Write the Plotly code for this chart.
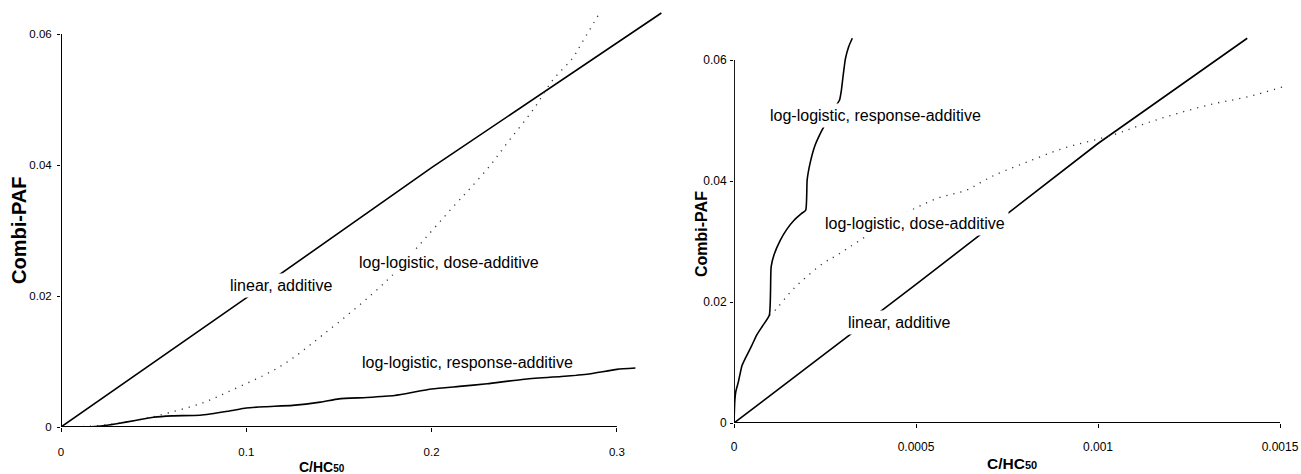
import plotly.graph_objects as go

# ---------------- data: left panel (C/HC50 up to 0.3) ----------------
left_linear_x = [0, 0.1, 0.2, 0.3, 0.324]
left_linear_y = [0, 0.0197, 0.0396, 0.0586, 0.0632]

left_dose_x = [0, 0.02, 0.04, 0.053, 0.0766, 0.0896, 0.118, 0.141, 0.176, 0.199,
               0.2135, 0.2207, 0.2315, 0.242, 0.2547, 0.2655, 0.276, 0.281, 0.29]
left_dose_y = [0, 0.0002, 0.001, 0.0018, 0.0037, 0.0053, 0.0092, 0.014, 0.0224, 0.0296,
               0.0342, 0.0364, 0.0399, 0.0438, 0.0484, 0.053, 0.0563, 0.0586, 0.0629]

left_resp_x = [0, 0.01, 0.02, 0.03, 0.04, 0.05, 0.06, 0.075, 0.09, 0.1, 0.11, 0.125,
               0.14, 0.15, 0.165, 0.18, 0.2, 0.215, 0.23, 0.25, 0.27, 0.285, 0.3, 0.31]
left_resp_y = [0, 0, 0.0001, 0.0005, 0.001, 0.0015, 0.0017, 0.0018, 0.0024, 0.0029, 0.0031, 0.0033,
               0.0038, 0.0043, 0.0045, 0.0048, 0.0058, 0.0062, 0.0066, 0.0073, 0.0077, 0.0081, 0.0088, 0.009]

left_x_ticks = [0, 0.1, 0.2, 0.3]
left_x_ticktext = ["0", "0.1", "0.2", "0.3"]
y_ticks = [0, 0.02, 0.04, 0.06]
y_ticktext = ["0", "0.02", "0.04", "0.06"]

# ---------------- data: right panel (C/HC50 up to 0.0015) ----------------
right_linear_x = [0, 0.0005, 0.001, 0.00141]
right_linear_y = [0, 0.0229, 0.0462, 0.0636]

right_resp_x = [0, 0.000002, 0.000005, 0.000012, 0.000022, 0.000032, 0.000048, 0.000062, 0.000078,
                0.000097, 0.000102, 0.00011, 0.000127, 0.000145, 0.000165, 0.000185, 0.000197,
                0.000201, 0.00021, 0.000222, 0.00024, 0.000258, 0.000275, 0.00029, 0.000295,
                0.0003, 0.000306, 0.000315, 0.000325]
right_resp_y = [0, 0.0035, 0.0052, 0.0068, 0.0095, 0.0108, 0.0127, 0.0145, 0.016,
                0.0178, 0.0258, 0.0278, 0.0302, 0.032, 0.0335, 0.0346, 0.0352,
                0.0402, 0.0432, 0.0458, 0.0482, 0.0502, 0.052, 0.0534, 0.055,
                0.0575, 0.0602, 0.0622, 0.0636]

right_dose_x = [0.000097, 0.000117, 0.00015, 0.000181, 0.000245, 0.000282, 0.000346, 0.00045,
                0.000557, 0.000639, 0.000676, 0.000717, 0.000795, 0.000905, 0.00104, 0.00113,
                0.00122, 0.00132, 0.00141, 0.00151]
right_dose_y = [0.0178, 0.0189, 0.0213, 0.0232, 0.0264, 0.0277, 0.0302, 0.034,
                0.0371, 0.0385, 0.0397, 0.041, 0.0429, 0.0454, 0.0476, 0.0495,
                0.0512, 0.0528, 0.0539, 0.0556]

right_x_ticks = [0, 0.0005, 0.001, 0.0015]
right_x_ticktext = ["0", "0.0005", "0.001", "0.0015"]

# ---------------- figure ----------------
W, H = 1301, 474
FONT = "Arial, 'Liberation Sans', sans-serif"
solid = dict(color="black", width=1.6)
solid_smooth = dict(color="black", width=1.6, shape="spline", smoothing=0.5)
dotted = dict(color="#333333", width=1.3, dash="1.2px,6px", shape="spline")

fig = go.Figure()
fig.add_trace(go.Scatter(x=left_linear_x, y=left_linear_y, mode="lines", line=solid, xaxis="x", yaxis="y"))
fig.add_trace(go.Scatter(x=left_dose_x, y=left_dose_y, mode="lines", line=dotted, xaxis="x", yaxis="y"))
fig.add_trace(go.Scatter(x=left_resp_x, y=left_resp_y, mode="lines", line=solid_smooth, xaxis="x", yaxis="y"))

fig.add_trace(go.Scatter(x=right_linear_x, y=right_linear_y, mode="lines", line=solid, xaxis="x2", yaxis="y2"))
fig.add_trace(go.Scatter(x=right_dose_x, y=right_dose_y, mode="lines", line=dotted, xaxis="x2", yaxis="y2"))
fig.add_trace(go.Scatter(x=right_resp_x, y=right_resp_y, mode="lines", line=solid_smooth, xaxis="x2", yaxis="y2"))


def px_x(p):
    return p / W


def px_y(p):
    return 1 - p / H


axis_common = dict(showgrid=False, zeroline=False, showline=False, ticks="outside",
                   tickcolor="black", tickwidth=1.2, color="black", fixedrange=True)

fig.update_layout(
    width=W, height=H,
    margin=dict(l=0, r=0, t=0, b=0, autoexpand=False),
    paper_bgcolor="white", plot_bgcolor="white",
    showlegend=False,
    font=dict(family=FONT, color="black"),
    xaxis=dict(domain=[px_x(61), px_x(61 + 0.33 * 1853)], range=[0, 0.33],
               tickvals=left_x_ticks, ticktext=left_x_ticktext, ticklen=4, ticklabelstandoff=10,
               tickfont=dict(size=11.5), anchor="y", **axis_common),
    yaxis=dict(domain=[px_y(427), px_y(427 - 0.0645 * 6550)], range=[0, 0.0645],
               tickvals=y_ticks, ticktext=y_ticktext, ticklen=3, ticklabelstandoff=3,
               tickfont=dict(size=11.5), anchor="x", **axis_common),
    xaxis2=dict(domain=[px_x(734), px_x(734 + 0.00154 * 364000)], range=[0, 0.00154],
                tickvals=right_x_ticks, ticktext=right_x_ticktext, ticklen=4, ticklabelstandoff=9,
                tickfont=dict(size=12), anchor="y2", **axis_common),
    yaxis2=dict(domain=[px_y(423), px_y(423 - 0.0655 * 6050)], range=[0, 0.0655],
                tickvals=y_ticks, ticktext=y_ticktext, ticklen=3, ticklabelstandoff=1,
                tickfont=dict(size=12), anchor="x2", **axis_common),
)

# axis lines (extend only to the last tick, as in the original)
fig.add_shape(type="line", xref="x", yref="y", x0=0, x1=max(left_x_ticks), y0=0, y1=0, line=dict(color="black", width=2))
fig.add_shape(type="line", xref="x", yref="y", x0=0, x1=0, y0=0, y1=max(y_ticks), line=dict(color="black", width=2))
fig.add_shape(type="line", xref="x2", yref="y2", x0=0, x1=max(right_x_ticks), y0=0, y1=0, line=dict(color="black", width=1.8))
fig.add_shape(type="line", xref="x2", yref="y2", x0=0, x1=0, y0=0, y1=max(y_ticks), line=dict(color="black", width=1.8))


def label(text, cx, cy, size=16):
    fig.add_annotation(text=text, x=px_x(cx), y=px_y(cy), xref="paper", yref="paper",
                       xanchor="center", yanchor="middle", showarrow=False,
                       font=dict(size=size, family=FONT, color="black"),
                       bgcolor="white", borderpad=3)


label("linear, additive", 281, 285)
label("log-logistic, dose-additive", 449, 262)
label("log-logistic, response-additive", 467, 362)
label("log-logistic, response-additive", 875, 115)
label("log-logistic, dose-additive", 915, 223)
label("linear, additive", 899, 322)


def title(text, cx, cy, size, angle=0):
    fig.add_annotation(text=text, x=px_x(cx), y=px_y(cy), xref="paper", yref="paper",
                       xanchor="center", yanchor="middle", showarrow=False, textangle=angle,
                       font=dict(size=size, family=FONT, color="black", weight="bold"))


title("Combi-PAF", 19, 231, 20, -90)
title("C/HC<span style='font-size:10px'>50</span>", 322, 467, 14)
title("Combi-PAF", 702, 234, 16, -90)
title("C/HC<span style='font-size:11px'>50</span>", 1012, 463, 15.5)

fig.write_html("out.html", config={"displayModeBar": False},
               post_script="document.body.style.margin='0px';document.body.style.overflow='hidden';")
